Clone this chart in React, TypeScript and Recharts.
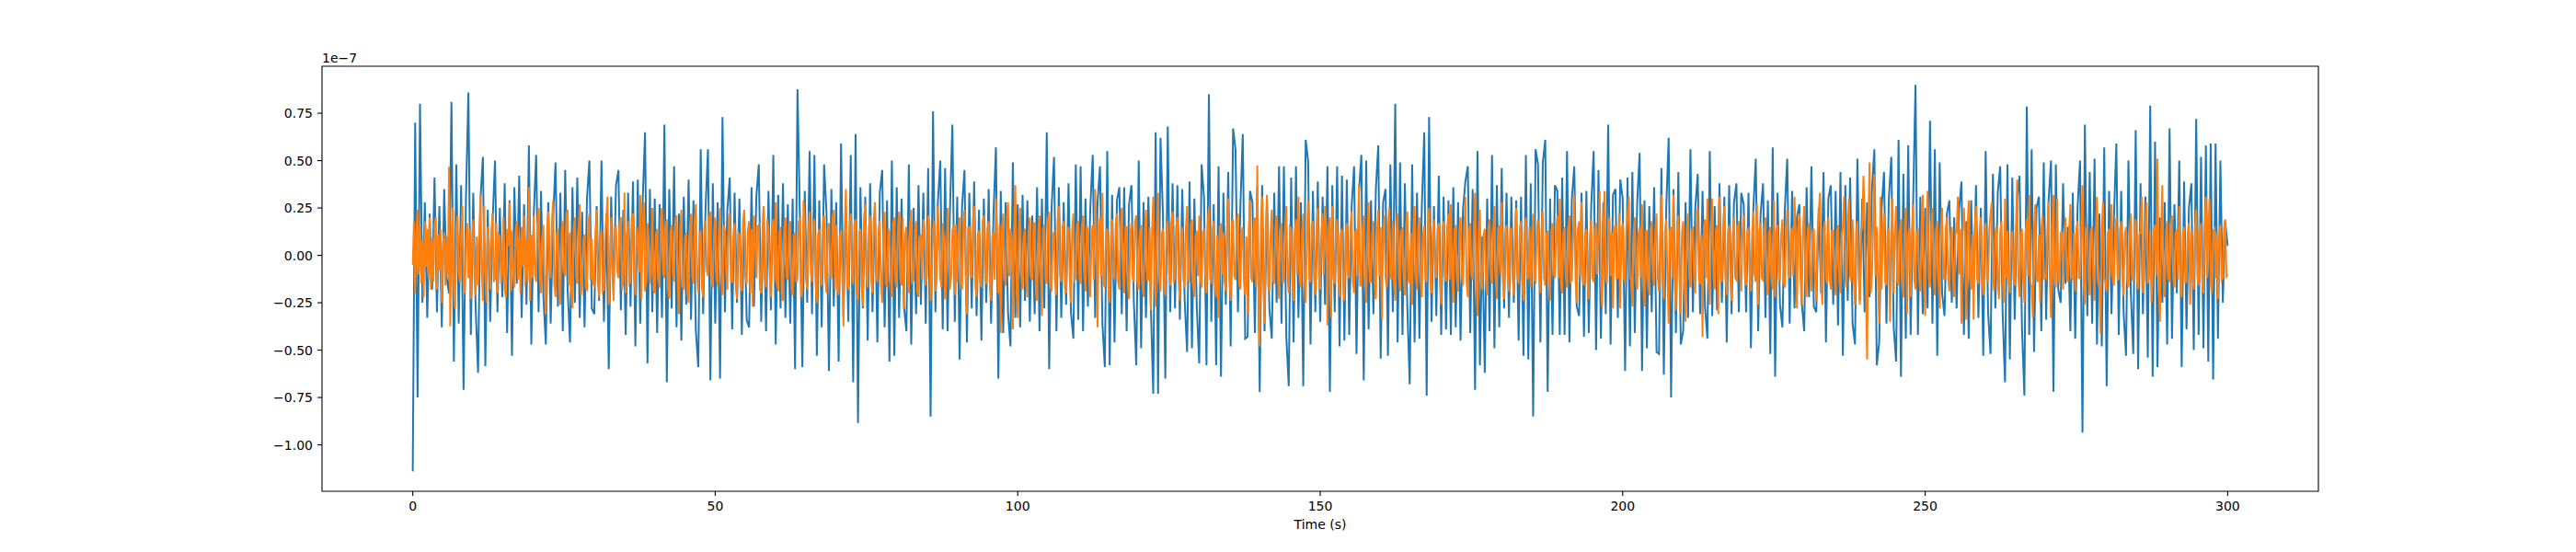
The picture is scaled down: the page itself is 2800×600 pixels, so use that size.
import { LineChart, Line, XAxis, YAxis, ReferenceArea } from 'recharts';

// two detector channels (values in units of 1e-7)
// blue channel: one sample every 0.4 s, orange channel: one sample every 0.2 s, both 0..300 s
const BLUE_STEP_S = 0.4;
const ORANGE_STEP_S = 0.2;

const BLUE_SIGNAL = [
  -1.14, 0.70, -0.75, 0.80, -0.25, 0.28, -0.33, 0.22, -0.18, 0.41, -0.30, 0.26, -0.38, 0.35, -0.12, -0.20, 0.81, -0.56, 0.48, -0.36, 0.37, -0.71, 0.31, 0.86, -0.42,
  0.33, -0.28, -0.62, 0.30, 0.52, -0.585, 0.24, -0.35, 0.18, 0.50, -0.30, 0.25, -0.22, 0.38, -0.41, 0.29, -0.53, 0.36, -0.15, 0.42, -0.33, 0.27, -0.26, 0.58, -0.47,
  0.21, 0.53, -0.30, 0.34, -0.22, -0.47, 0.28, -0.36, 0.19, 0.49, -0.27, 0.33, -0.40, 0.45, -0.18, -0.46, 0.36, -0.25, 0.41, -0.33, 0.23, -0.38, 0.30, 0.50, -0.28,
  -0.31, 0.26, -0.24, 0.50, -0.35, 0.22, -0.60, 0.31, -0.19, 0.37, 0.45, -0.29, 0.24, -0.42, 0.33, -0.27, 0.39, -0.48, 0.40, -0.36, 0.28, 0.65, -0.57, 0.35, -0.30,
  0.30, -0.41, 0.27, -0.33, 0.69, -0.67, 0.35, -0.28, 0.47, -0.38, 0.22, -0.45, 0.31, -0.26, 0.40, -0.34, 0.29, -0.40, -0.59, 0.56, -0.31, 0.25, 0.56, -0.66, 0.38,
  -0.36, 0.28, -0.65, 0.73, -0.30, 0.24, 0.41, -0.39, 0.33, -0.25, 0.30, -0.42, 0.22, -0.34, -0.38, 0.36, -0.27, 0.31, 0.48, -0.35, 0.26, -0.40, 0.34, -0.29, 0.53,
  -0.47, 0.32, -0.28, 0.38, -0.33, 0.27, -0.36, 0.30, -0.60, 0.876, 0.20, -0.59, 0.34, -0.25, 0.55, -0.31, 0.53, -0.53, 0.29, -0.38, 0.48, 0.22, -0.61, 0.35, -0.27,
  0.28, -0.56, 0.59, -0.32, 0.25, -0.35, 0.53, -0.67, 0.64, -0.885, 0.36, -0.28, 0.31, -0.45, 0.38, -0.30, 0.27, -0.46, 0.33, 0.45, -0.38, 0.29, -0.56, 0.50, -0.53,
  0.36, -0.33, 0.30, -0.27, -0.40, 0.48, -0.47, 0.25, -0.31, 0.37, -0.26, 0.33, -0.36, 0.46, -0.85, 0.76, -0.30, 0.28, 0.50, -0.39, 0.46, -0.40, 0.24, 0.69, -0.35,
  0.31, -0.55, 0.26, 0.45, -0.46, 0.33, -0.28, 0.39, -0.32, 0.24, -0.45, 0.30, -0.25, 0.35, -0.36, 0.22, 0.57, -0.65, 0.34, -0.41, 0.28, -0.30, -0.48, 0.49, -0.33,
  0.27, -0.38, 0.32, -0.24, 0.29, -0.35, 0.21, -0.31, 0.36, -0.40, 0.30, -0.28, 0.65, -0.60, 0.25, 0.52, -0.40, 0.36, -0.33, 0.28, -0.26, 0.38, -0.30, -0.44, 0.48,
  -0.34, 0.47, -0.40, 0.30, -0.27, 0.25, 0.53, -0.33, 0.28, 0.47, -0.36, -0.59, 0.55, -0.58, 0.32, -0.46, 0.29, 0.36, -0.31, 0.36, -0.40, 0.27, 0.37, -0.25, -0.58,
  0.50, -0.49, 0.28, -0.33, 0.31, -0.26, -0.73, 0.65, -0.73, 0.62, 0.22, -0.65, 0.68, -0.30, 0.38, -0.28, 0.37, -0.34, 0.35, -0.24, -0.51, 0.39, -0.49, 0.30, -0.27,
  -0.57, 0.48, 0.30, -0.58, 0.85, -0.35, 0.27, -0.58, 0.47, -0.64, 0.33, -0.26, 0.44, -0.48, 0.67, 0.56, -0.30, 0.25, 0.64, -0.44, -0.43, 0.34, 0.28, -0.41, 0.36,
  -0.72, 0.37, -0.40, 0.30, -0.28, -0.44, 0.33, -0.25, 0.47, -0.36, 0.47, -0.43, -0.69, 0.41, -0.46, 0.47, -0.33, 0.28, -0.69, 0.61, 0.50, -0.47, 0.34, -0.30, 0.39,
  -0.35, 0.31, -0.26, 0.47, -0.72, 0.37, -0.30, 0.47, -0.48, 0.42, -0.45, 0.40, -0.42, 0.26, 0.47, -0.52, 0.33, 0.53, -0.66, 0.50, -0.39, 0.29, -0.31, 0.35, 0.58,
  -0.545, 0.28, 0.35, -0.53, 0.48, -0.30, 0.80, -0.46, 0.49, -0.42, 0.38, -0.27, -0.68, 0.48, -0.46, 0.33, -0.44, 0.26, 0.65, -0.74, 0.73, -0.35, 0.26, -0.32, 0.42,
  -0.42, 0.31, -0.39, 0.29, -0.42, 0.36, -0.38, 0.28, -0.45, 0.24, 0.39, 0.47, -0.41, 0.35, -0.71, 0.55, -0.58, 0.10, -0.62, 0.30, -0.40, 0.53, -0.49, 0.37, -0.38,
  0.46, -0.28, 0.33, -0.33, 0.31, -0.25, 0.29, -0.45, 0.31, -0.53, 0.53, -0.55, 0.38, -0.85, 0.56, 0.48, -0.46, 0.49, 0.61, -0.72, 0.30, -0.42, 0.37, 0.34, -0.42,
  0.41, -0.42, 0.55, -0.46, 0.30, 0.47, -0.27, -0.32, 0.33, -0.43, 0.34, -0.41, 0.26, 0.55, -0.50, 0.45, -0.44, 0.28, -0.31, 0.69, -0.47, 0.32, 0.35, -0.33, 0.40,
  0.30, -0.61, 0.41, -0.48, 0.44, -0.41, 0.28, 0.54, -0.61, 0.29, -0.49, 0.26, -0.30, 0.36, -0.51, -0.52, 0.46, -0.63, 0.25, 0.62, -0.75, 0.35, -0.41, 0.44, -0.47,
  -0.40, 0.28, -0.33, 0.56, -0.30, 0.25, 0.43, -0.31, 0.34, -0.27, -0.44, 0.55, -0.32, 0.26, -0.29, 0.38, -0.25, 0.31, -0.46, 0.37, -0.31, 0.28, 0.38, -0.30, 0.33,
  0.27, -0.30, 0.33, -0.49, 0.25, 0.51, -0.40, 0.22, 0.38, -0.33, 0.29, -0.52, 0.57, -0.64, 0.33, -0.26, -0.38, 0.24, 0.51, -0.36, 0.34, -0.28, 0.20, 0.27, -0.25,
  -0.40, 0.36, -0.22, 0.47, -0.27, -0.30, 0.25, -0.20, 0.44, -0.46, 0.30, 0.37, -0.26, 0.34, -0.37, 0.44, -0.53, 0.37, -0.24, 0.41, -0.36, -0.47, 0.51, -0.24, 0.30,
  -0.30, 0.28, -0.22, 0.35, 0.56, -0.58, -0.46, 0.25, 0.44, -0.36, 0.30, 0.52, -0.38, -0.56, 0.61, -0.64, 0.43, -0.44, 0.58, -0.42, 0.26, 0.90, -0.42, 0.31, -0.31,
  0.25, -0.28, 0.71, -0.36, 0.56, -0.53, 0.49, -0.20, -0.32, 0.22, 0.29, -0.25, 0.20, -0.28, 0.24, 0.39, -0.42, 0.18, -0.44, 0.29, -0.20, 0.37, -0.33, 0.25, -0.53,
  0.55, -0.30, -0.52, 0.43, -0.28, 0.33, 0.47, -0.30, -0.67, 0.48, -0.55, 0.41, -0.34, 0.30, 0.42, -0.38, -0.74, 0.785, -0.42, 0.56, -0.51, 0.25, 0.31, -0.40, 0.49,
  -0.34, 0.29, 0.50, -0.72, 0.48, -0.18, -0.25, 0.38, -0.15, 0.15, -0.40, 0.33, -0.44, 0.26, 0.50, -0.936, 0.69, -0.32, 0.44, -0.36, 0.51, -0.47, 0.22, -0.48, 0.57,
  -0.69, 0.34, -0.31, 0.20, 0.59, -0.42, 0.34, -0.30, -0.53, 0.50, -0.20, -0.52, 0.66, -0.60, 0.38, -0.31, 0.31, -0.54, 0.79, -0.64, 0.60, -0.59, 0.20, -0.25, 0.28,
  -0.47, 0.67, -0.44, 0.27, -0.20, 0.50, -0.59, 0.39, -0.39, 0.25, 0.38, -0.50, 0.72, -0.42, 0.52, -0.49, 0.58, -0.56, 0.59, -0.655, 0.59, -0.44, 0.50, -0.25, 0.18,
  0.05,
];

const ORANGE_SIGNAL = [
  // 0-10 s
  -0.05, 0.18, -0.20, 0.12, 0.24, -0.10, 0.15, -0.15, 0.08, -0.22, 0.18, -0.06, 0.14, -0.12, 0.20, -0.18, 0.09, -0.14, 0.16, 0.20, -0.18, 0.11, -0.08, 0.14, -0.25,
  0.06, 0.12, -0.16, 0.10, -0.10, 0.467, -0.375, 0.10, 0.25, -0.18, -0.28, 0.15, 0.21, -0.09, -0.14, 0.12, 0.26, -0.15, -0.20, 0.08, 0.17, -0.12, 0.14, -0.23, 0.05,
  // 10-20 s
  0.19, -0.12, -0.21, 0.10, -0.16, 0.12, 0.32, -0.08, -0.24, 0.26, -0.10, -0.25, 0.15, 0.07, -0.18, 0.13, 0.22, -0.14, -0.12, 0.17, -0.20, 0.11, 0.10, -0.15, -0.09,
  0.20, -0.18, -0.22, 0.14, 0.05, 0.28, -0.19, 0.13, -0.08, -0.17, 0.12, 0.18, -0.13, 0.09, -0.20, 0.15, -0.06, 0.21, -0.16, 0.08, -0.14, 0.36, -0.24, 0.11, -0.12,
  // 20-30 s
  0.21, -0.10, -0.14, 0.16, 0.25, -0.12, -0.20, 0.09, 0.16, -0.18, -0.31, 0.14, 0.23, -0.07, -0.12, 0.17, 0.29, -0.15, -0.22, 0.10, 0.14, -0.20, -0.26, 0.12, 0.18,
  -0.09, -0.10, 0.22, 0.24, -0.16, 0.12, -0.18, -0.28, 0.15, 0.20, -0.11, -0.15, 0.13, 0.27, -0.21, -0.14, 0.08, 0.11, -0.17, -0.18, 0.16, 0.22, -0.13, 0.09, -0.15,
  // 30-40 s
  -0.16, 0.12, 0.24, -0.14, -0.22, 0.10, 0.13, -0.19, -0.18, 0.09, 0.20, 0.31, -0.26, -0.12, 0.20, -0.10, -0.24, 0.14, 0.15, -0.08, -0.12, 0.17, 0.20, -0.18, -0.14,
  0.33, -0.20, 0.11, 0.18, -0.15, -0.14, 0.20, 0.22, -0.12, -0.21, 0.15, 0.10, -0.09, 0.32, -0.23, 0.14, 0.28, -0.19, -0.11, 0.17, 0.09, -0.15, -0.10, 0.25, -0.18,
  // 40-50 s
  -0.20, 0.11, 0.14, -0.13, -0.17, 0.20, 0.25, -0.09, -0.12, 0.16, 0.19, -0.18, -0.23, 0.12, 0.16, -0.10, -0.14, 0.18, 0.21, -0.15, -0.31, 0.13, 0.24, -0.16, -0.18,
  0.09, 0.12, -0.20, -0.25, 0.14, 0.22, -0.11, -0.15, 0.19, 0.27, -0.12, -0.20, 0.10, 0.13, -0.17, -0.22, 0.15, 0.18, -0.08, -0.11, 0.20, 0.23, -0.14, -0.17, 0.12,
  // 50-60 s
  0.20, -0.12, -0.16, 0.14, 0.25, -0.10, -0.21, 0.16, 0.13, -0.09, -0.18, 0.19, 0.22, -0.14, -0.14, 0.10, 0.17, -0.17, -0.23, 0.12, 0.11, -0.15, -0.19, 0.18, 0.24,
  -0.11, -0.15, 0.13, 0.18, -0.20, 0.14, -0.27, 0.21, 0.08, -0.12, 0.15, 0.16, -0.18, -0.20, 0.11, 0.26, -0.13, -0.17, 0.19, 0.14, -0.10, -0.22, 0.16, 0.19, -0.14,
  // 60-70 s
  0.28, -0.15, -0.19, 0.12, 0.15, -0.20, -0.24, 0.14, 0.20, -0.11, -0.13, 0.16, 0.18, -0.17, -0.21, 0.10, 0.12, -0.14, -0.12, 0.18, 0.19, -0.22, -0.16, 0.29, 0.16,
  -0.12, -0.18, 0.13, 0.23, -0.09, -0.14, 0.15, 0.19, -0.16, -0.25, 0.11, 0.14, -0.12, -0.16, 0.17, 0.21, -0.13, -0.20, 0.15, 0.17, -0.10, -0.12, 0.20, 0.24, -0.18,
  // 70-80 s
  0.16, -0.14, -0.21, 0.10, 0.13, -0.11, -0.375, 0.12, 0.35, -0.15, -0.18, 0.14, 0.22, -0.10, -0.15, 0.17, 0.19, -0.20, -0.24, 0.12, 0.14, -0.16, -0.27, 0.20, 0.27,
  -0.12, -0.17, 0.15, 0.21, -0.14, -0.20, 0.18, 0.28, -0.11, -0.14, 0.13, 0.18, -0.16, -0.25, 0.10, 0.23, -0.15, -0.16, 0.14, 0.12, -0.12, -0.22, 0.17, 0.20, -0.13,
  // 80-90 s
  -0.17, 0.13, 0.23, -0.12, -0.16, 0.20, -0.28, 0.11, 0.15, -0.10, -0.20, 0.17, 0.24, -0.14, -0.13, 0.12, 0.18, -0.19, -0.22, 0.09, 0.11, -0.13, 0.19, 0.14, -0.16,
  -0.11, 0.21, 0.15, -0.24, -0.12, 0.14, 0.18, -0.19, -0.10, 0.26, 0.12, -0.12, -0.17, 0.17, 0.09, -0.23, -0.14, 0.25, 0.10, -0.18, -0.11, 0.13, 0.16, -0.21, 0.16,
  // 90-100 s
  -0.14, 0.12, 0.20, -0.13, -0.18, 0.16, 0.24, -0.11, -0.31, 0.15, 0.15, -0.10, -0.12, 0.19, 0.26, -0.16, -0.22, 0.11, 0.13, -0.14, -0.17, 0.18, 0.21, -0.12, -0.15,
  0.14, 0.18, -0.17, -0.24, 0.10, 0.12, -0.13, 0.30, 0.08, -0.20, 0.16, -0.41, 0.14, 0.22, -0.12, -0.16, 0.20, 0.28, -0.11, 0.14, 0.09, -0.39, 0.13, 0.37, -0.18,
  // 100-110 s
  -0.33, 0.14, 0.25, -0.12, -0.18, 0.10, 0.14, -0.15, -0.22, 0.13, 0.20, -0.11, -0.13, 0.17, 0.17, -0.20, -0.24, 0.12, 0.21, -0.09, -0.32, 0.14, 0.16, -0.13, -0.15,
  0.19, 0.23, -0.16, -0.19, 0.11, 0.12, -0.14, -0.21, 0.18, 0.26, -0.10, -0.14, 0.15, 0.18, -0.17, -0.20, 0.12, 0.15, -0.11, -0.25, 0.14, 0.22, -0.13, -0.12, 0.16,
  // 110-120 s
  0.18, -0.12, -0.15, 0.14, 0.21, -0.10, -0.19, 0.16, 0.13, -0.14, -0.22, 0.11, 0.16, -0.13, 0.35, 0.10, -0.38, 0.14, 0.20, -0.11, 0.33, -0.15, -0.17, 0.12, 0.14,
  -0.18, -0.25, 0.10, 0.19, -0.12, -0.12, 0.16, 0.22, -0.14, -0.18, 0.13, 0.25, -0.10, -0.20, 0.15, 0.15, -0.16, -0.23, 0.11, 0.17, -0.12, -0.14, 0.18, 0.21, -0.13,
  // 120-130 s
  -0.18, 0.12, 0.16, -0.14, -0.22, 0.10, 0.24, -0.13, -0.13, 0.15, -0.29, 0.12, 0.31, -0.10, -0.27, 0.14, 0.33, -0.12, -0.19, 0.11, 0.14, -0.16, -0.21, 0.13, 0.18,
  -0.09, -0.16, 0.17, 0.23, -0.14, -0.12, 0.15, 0.20, -0.11, -0.24, 0.12, 0.15, -0.13, -0.17, 0.14, 0.26, -0.12, -0.14, 0.16, 0.19, -0.15, -0.22, 0.10, 0.13, -0.11,
  // 130-140 s
  0.21, -0.13, -0.17, 0.12, 0.14, -0.10, -0.20, 0.16, 0.25, -0.12, -0.15, 0.13, 0.18, -0.14, -0.22, 0.11, -0.33, 0.15, 0.16, -0.10, 0.12, -0.14, -0.19, 0.13, 0.30,
  -0.12, -0.24, 0.17, 0.19, -0.11, -0.13, 0.14, 0.22, -0.15, -0.18, 0.12, 0.15, -0.13, -0.21, 0.10, -0.31, 0.14, 0.29, -0.12, -0.14, 0.16, 0.20, -0.17, 0.475, -0.20,
  // 140-150 s
  -0.48, 0.15, 0.31, -0.12, -0.36, 0.14, 0.32, -0.16, -0.19, 0.11, 0.24, -0.13, -0.15, 0.14, 0.21, -0.12, -0.23, 0.10, 0.17, -0.15, -0.12, 0.13, 0.26, -0.11, -0.20,
  0.15, 0.14, -0.14, -0.24, 0.12, 0.19, -0.10, 0.31, -0.13, -0.17, 0.12, 0.22, -0.15, -0.25, 0.11, 0.29, -0.12, -0.14, 0.16, 0.18, -0.13, -0.21, 0.14, 0.25, -0.12,
  // 150-160 s
  -0.18, 0.12, 0.22, -0.10, 0.26, 0.14, -0.37, 0.15, 0.20, -0.33, 0.26, -0.12, -0.15, 0.13, 0.19, -0.14, -0.22, 0.11, 0.14, -0.13, -0.24, 0.12, 0.17, -0.10, -0.12,
  0.15, 0.23, -0.14, -0.20, 0.12, 0.14, -0.11, 0.37, -0.16, -0.16, 0.13, 0.21, -0.12, -0.25, 0.10, 0.28, -0.14, -0.14, 0.12, 0.18, -0.15, -0.23, 0.13, 0.24, -0.11,
  // 160-170 s
  0.15, -0.34, 0.14, 0.21, -0.12, -0.17, 0.14, 0.25, -0.10, -0.13, 0.18, -0.15, -0.24, 0.12, 0.22, -0.11, -0.19, 0.13, 0.14, -0.12, -0.21, 0.16, 0.23, -0.13, -0.15,
  0.12, -0.26, 0.14, 0.26, -0.11, -0.18, 0.15, 0.20, -0.14, -0.22, 0.10, 0.16, -0.12, -0.14, 0.13, 0.25, -0.15, -0.20, 0.12, 0.19, -0.10, -0.12, 0.14, 0.17, -0.13,
  // 170-180 s
  -0.26, 0.12, 0.18, -0.11, -0.14, 0.15, 0.22, -0.13, 0.27, -0.10, -0.25, 0.14, 0.15, -0.12, -0.19, 0.13, 0.20, -0.11, -0.16, 0.12, 0.31, -0.14, -0.22, 0.12, 0.17,
  -0.10, -0.13, 0.15, 0.33, -0.12, -0.32, 0.14, 0.24, -0.13, -0.18, 0.11, 0.14, -0.12, -0.21, 0.15, 0.19, -0.11, -0.15, 0.13, 0.26, -0.12, -0.23, 0.14, 0.16, -0.10,
  // 180-190 s
  0.28, -0.13, -0.23, 0.12, 0.16, -0.11, -0.19, 0.14, 0.14, -0.12, -0.21, 0.13, 0.25, -0.10, -0.15, 0.14, 0.18, -0.13, -0.24, 0.11, 0.20, -0.12, -0.12, 0.15, -0.17,
  0.10, 0.22, -0.13, -0.14, 0.12, 0.19, -0.11, -0.20, 0.14, 0.23, -0.12, -0.16, 0.11, 0.13, -0.14, -0.24, 0.12, 0.17, -0.10, -0.11, 0.13, 0.21, -0.12, 0.30, -0.15,
  // 190-200 s
  -0.20, 0.12, 0.15, -0.11, -0.17, 0.13, 0.21, -0.14, -0.13, 0.10, 0.32, -0.12, -0.25, 0.14, 0.18, -0.11, 0.28, -0.13, -0.16, 0.12, 0.13, -0.14, -0.23, 0.11, 0.19,
  -0.12, -0.14, 0.13, 0.17, -0.10, 0.12, 0.34, -0.15, -0.27, 0.14, 0.34, -0.12, -0.15, 0.13, 0.20, -0.11, 0.12, -0.28, 0.14, 0.16, -0.12, -0.12, 0.22, -0.28, 0.13,
  // 200-210 s
  0.17, -0.12, -0.14, 0.13, 0.20, 0.31, -0.11, -0.13, -0.27, 0.12, 0.20, -0.14, -0.18, 0.11, 0.15, -0.12, 0.27, -0.10, -0.27, 0.13, 0.13, -0.12, -0.21, 0.14, 0.18,
  -0.11, -0.16, 0.13, 0.22, -0.12, -0.19, 0.11, 0.32, -0.14, -0.23, 0.12, 0.19, -0.11, -0.36, 0.13, 0.15, -0.12, 0.32, -0.14, -0.29, 0.11, 0.21, -0.13, -0.31, 0.12,
  // 210-220 s
  0.18, -0.12, -0.35, 0.14, 0.22, -0.11, -0.17, 0.13, 0.14, -0.12, -0.20, 0.15, 0.25, -0.13, -0.15, 0.11, -0.43, 0.14, 0.19, -0.12, 0.30, -0.14, -0.26, 0.12, 0.30,
  -0.11, -0.18, 0.13, 0.16, -0.31, 0.31, -0.12, -0.14, 0.13, 0.26, -0.11, -0.21, 0.12, 0.16, -0.13, -0.24, 0.11, 0.20, -0.12, -0.13, 0.14, 0.18, -0.11, -0.19, 0.12,
  // 220-230 s
  0.21, -0.12, -0.16, 0.13, 0.14, -0.11, -0.19, 0.12, 0.23, -0.10, -0.14, 0.27, -0.26, 0.13, 0.17, -0.12, -0.13, 0.11, 0.20, -0.14, -0.21, 0.12, 0.15, -0.11, -0.18,
  0.29, -0.22, 0.13, 0.16, -0.12, -0.14, 0.11, 0.19, -0.13, -0.17, 0.12, 0.24, -0.10, -0.12, 0.13, 0.14, -0.11, 0.31, 0.12, -0.28, 0.14, 0.22, -0.12, -0.26, 0.13,
  // 230-240 s
  0.26, -0.12, -0.22, 0.13, 0.17, -0.11, -0.19, 0.12, 0.14, -0.13, -0.24, 0.11, 0.21, 0.33, -0.14, -0.26, 0.12, 0.18, -0.11, -0.15, 0.20, -0.12, -0.18, 0.13, 0.13,
  -0.11, -0.21, 0.12, 0.16, -0.13, -0.20, 0.11, 0.15, 0.31, -0.12, -0.17, 0.14, 0.30, -0.11, -0.14, 0.19, -0.12, -0.26, 0.13, 0.18, -0.11, -0.26, 0.12, 0.15, 0.42,
  // 240-250 s
  0.18, -0.14, -0.55, 0.12, 0.49, -0.20, -0.12, 0.15, 0.43, -0.11, 0.15, -0.13, -0.36, 0.31, -0.18, 0.12, 0.22, -0.14, -0.16, 0.13, 0.14, -0.35, 0.12, 0.30, -0.20,
  0.11, 0.26, -0.13, -0.16, 0.12, 0.19, -0.12, -0.22, 0.14, 0.25, -0.31, 0.11, 0.14, -0.22, 0.12, 0.27, -0.13, -0.18, 0.12, 0.13, -0.11, -0.19, 0.14, 0.32, -0.15,
  // 250-260 s
  -0.32, 0.14, 0.34, -0.12, -0.17, 0.13, 0.25, -0.11, -0.21, 0.12, 0.18, -0.13, -0.28, 0.12, 0.25, -0.11, -0.13, 0.14, 0.20, -0.12, -0.19, 0.11, 0.15, -0.13, -0.22,
  0.12, 0.12, 0.31, -0.10, 0.14, -0.36, 0.12, 0.25, 0.10, -0.34, 0.13, 0.29, -0.12, -0.18, 0.11, -0.34, 0.14, 0.26, -0.12, -0.15, 0.13, 0.20, -0.11, -0.21, 0.12,
  // 260-270 s
  0.17, -0.12, -0.14, 0.13, 0.22, 0.28, -0.11, -0.19, 0.12, 0.15, -0.13, -0.23, 0.12, 0.18, -0.11, -0.25, 0.30, -0.12, 0.13, -0.14, -0.20, 0.11, 0.12, -0.13, -0.16,
  0.14, 0.40, -0.12, -0.22, 0.11, 0.14, -0.13, -0.25, 0.12, 0.19, -0.11, 0.32, -0.14, -0.17, -0.33, 0.13, 0.27, -0.12, -0.14, 0.11, -0.25, 0.14, 0.21, -0.12, -0.11,
  // 270-280 s
  -0.12, 0.13, 0.28, -0.11, -0.33, 0.14, 0.32, -0.12, -0.17, 0.30, -0.13, -0.15, 0.12, 0.12, -0.18, 0.11, 0.20, -0.12, -0.14, 0.13, 0.27, -0.11, -0.13, 0.12, -0.19,
  0.14, 0.18, -0.12, -0.12, 0.11, 0.37, -0.14, -0.26, 0.12, 0.16, -0.11, -0.21, 0.13, 0.15, -0.12, -0.24, 0.11, 0.31, -0.13, -0.18, -0.415, 0.14, 0.28, -0.12, -0.14,
  // 280-290 s
  -0.19, 0.12, 0.14, -0.11, 0.27, -0.13, -0.16, 0.12, 0.20, -0.11, -0.13, 0.14, 0.18, -0.12, -0.21, 0.11, 0.15, -0.13, -0.17, 0.12, 0.22, -0.11, -0.14, 0.13, 0.19,
  -0.12, -0.18, 0.11, 0.12, 0.31, -0.20, -0.12, 0.14, 0.28, -0.15, -0.11, 0.13, -0.25, -0.12, 0.14, 0.16, -0.11, 0.51, -0.13, -0.35, 0.12, 0.37, -0.14, -0.22, 0.12,
  // 290-300 s
  0.18, -0.12, -0.14, 0.13, 0.21, -0.11, -0.17, 0.12, 0.13, -0.13, 0.26, -0.11, -0.22, 0.12, 0.15, -0.14, -0.14, 0.11, 0.17, -0.26, 0.13, -0.12, -0.18, 0.14, 0.24,
  -0.11, -0.16, 0.12, 0.17, -0.13, -0.20, 0.11, 0.31, -0.12, 0.12, 0.30, -0.14, -0.20, 0.13, 0.14, -0.12, 0.12, -0.23, 0.11, 0.16, -0.13, -0.12, 0.14, 0.19, -0.11,
  -0.10,
];

const X_TICKS = [0, 50, 100, 150, 200, 250, 300];
const Y_TICKS = [-1, -0.75, -0.5, -0.25, 0, 0.25, 0.5, 0.75];
const X_DOMAIN: [number, number] = [-15, 315];
const Y_DOMAIN: [number, number] = [-1.245, 0.998];
const X_LABEL = 'Time (s)';
const Y_OFFSET_TEXT = '1e\u22127';

const FONT = 'DejaVu Sans';
const tickStyle = { fontSize: 14, fill: '#000', fontFamily: FONT };

const toRows = (values: number[], step: number) =>
  values.map((v, i) => ({ t: Math.round(i * step * 10) / 10, v }));

const blueData = toRows(BLUE_SIGNAL, BLUE_STEP_S);
const orangeData = toRows(ORANGE_SIGNAL, ORANGE_STEP_S);

// matplotlib style: two decimals, real minus sign
const fmtY = (v: number) => v.toFixed(2).replace('-', '\u2212');

function OffsetText(props: any) {
  const vb = props.viewBox || {};
  return (
    <text x={vb.x + vb.width} y={vb.y - 4} fontSize={14} fontFamily={FONT} fill="#000" textAnchor="start">
      {Y_OFFSET_TEXT}
    </text>
  );
}

export default function App() {
  return (
    <div style={{ position: 'absolute', left: 0, top: 0, width: 2800, height: 600, background: '#fff', fontFamily: FONT }}>
      <LineChart width={2800} height={600} margin={{ top: 72, right: 280, bottom: 21, left: 290 }}>
        <XAxis
          dataKey="t"
          type="number"
          domain={X_DOMAIN}
          ticks={X_TICKS}
          interval={0}
          allowDataOverflow
          axisLine={false}
          tickLine={{ stroke: '#000', strokeWidth: 1.1 }}
          tickSize={5}
          tickMargin={6}
          tick={tickStyle}
          height={45}
          label={{ value: X_LABEL, position: 'insideBottom', offset: 4, fill: '#000', fontSize: 14, fontFamily: FONT }}
        />
        <YAxis
          type="number"
          domain={Y_DOMAIN}
          ticks={Y_TICKS}
          interval={0}
          allowDataOverflow
          axisLine={false}
          tickLine={{ stroke: '#000', strokeWidth: 1.1 }}
          tickSize={5}
          tickMargin={5}
          tick={tickStyle}
          tickFormatter={fmtY}
          width={60}
          label={{ content: OffsetText }}
        />
        <ReferenceArea
          x1={X_DOMAIN[0]}
          x2={X_DOMAIN[1]}
          y1={Y_DOMAIN[0]}
          y2={Y_DOMAIN[1]}
          fill="none"
          fillOpacity={0}
          stroke="#000"
          strokeWidth={1.1}
          ifOverflow="visible"
        />
        <Line data={blueData} type="linear" dataKey="v" stroke="#1f77b4" strokeWidth={2} dot={false} isAnimationActive={false} />
        <Line data={orangeData} type="linear" dataKey="v" stroke="#ff7f0e" strokeWidth={2} dot={false} isAnimationActive={false} />
      </LineChart>
    </div>
  );
}
